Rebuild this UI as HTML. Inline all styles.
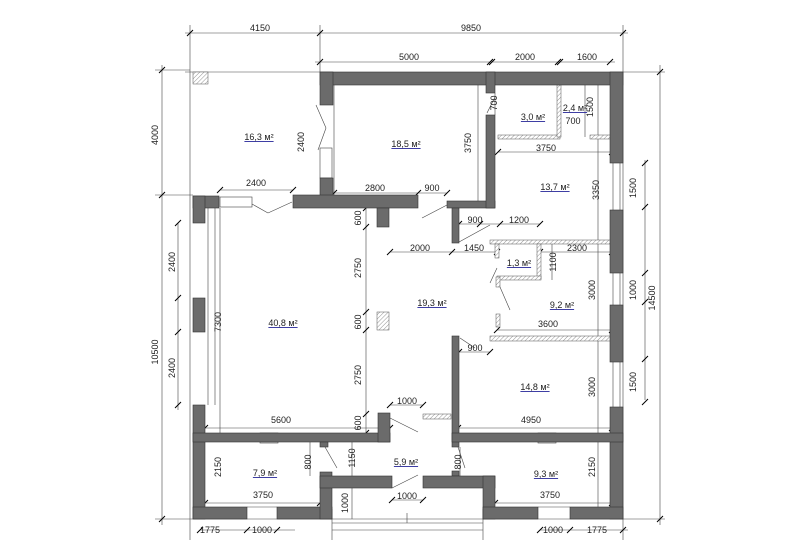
<!DOCTYPE html>
<html><head><meta charset="utf-8"><style>
html,body{margin:0;padding:0;background:#fff}
svg{display:block}
text{font-family:"Liberation Sans",sans-serif;font-size:9px;fill:#222}
.r{fill:#2a2a9a;text-decoration:underline}
.w{fill:#6b6b6b;stroke:#333;stroke-width:.6}
.h{fill:url(#hp);stroke:#555;stroke-width:.5}
.d{stroke:#444;stroke-width:.6;fill:none}
.t{stroke:#000;stroke-width:1}
</style></head><body>
<svg width="800" height="540" viewBox="0 0 800 540" xmlns="http://www.w3.org/2000/svg">
<defs><pattern id="hp" width="3" height="3" patternUnits="userSpaceOnUse" patternTransform="rotate(45)"><rect width="3" height="3" fill="#fff"/><line x1="0" y1="0" x2="0" y2="3" stroke="#777" stroke-width=".8"/></pattern></defs>

<g class="d">
<line x1="190" y1="25" x2="190" y2="540"/><line x1="320" y1="25" x2="320" y2="72"/><line x1="623" y1="25" x2="623" y2="540"/>
<line x1="185" y1="72" x2="320" y2="72"/><line x1="623" y1="72" x2="665" y2="72"/>
<line x1="155" y1="70" x2="190" y2="70"/><line x1="155" y1="195" x2="193" y2="195"/>
<line x1="155" y1="519" x2="665" y2="519"/>
<line x1="185" y1="33" x2="628" y2="33"/>
<line x1="162" y1="65" x2="162" y2="525"/>
<line x1="178" y1="223" x2="178" y2="410"/>
<line x1="660" y1="65" x2="660" y2="525"/>
<line x1="645" y1="160" x2="645" y2="400"/>
<line x1="315" y1="62" x2="615" y2="62"/>
<line x1="200" y1="530" x2="295" y2="530"/><line x1="540" y1="530" x2="628" y2="530"/>
<line x1="208" y1="207" x2="208" y2="405"/><line x1="215" y1="207" x2="215" y2="405"/>
<line x1="220" y1="208" x2="220" y2="433"/>
<line x1="334" y1="85" x2="334" y2="195"/>
<line x1="220" y1="190" x2="293" y2="190"/>
<line x1="333" y1="193" x2="418" y2="193"/><line x1="418" y1="193" x2="447" y2="193"/>
<line x1="478" y1="85" x2="478" y2="201"/>
<line x1="498" y1="152" x2="612" y2="152"/>
<line x1="598" y1="85" x2="598" y2="519"/>
<line x1="585" y1="85" x2="585" y2="137"/>
<line x1="366" y1="208" x2="366" y2="433"/>
<line x1="390" y1="252" x2="452" y2="252"/><line x1="452" y1="252" x2="497" y2="252"/>
<line x1="459" y1="224" x2="540" y2="224"/>
<line x1="540" y1="252" x2="612" y2="252"/>
<line x1="552" y1="244" x2="552" y2="280"/>
<line x1="497" y1="330" x2="612" y2="330"/>
<line x1="459" y1="352" x2="490" y2="352"/>
<line x1="205" y1="428" x2="390" y2="428"/><line x1="458" y1="428" x2="612" y2="428"/>
<line x1="205" y1="503" x2="320" y2="503"/><line x1="495" y1="503" x2="612" y2="503"/>
<line x1="390" y1="405" x2="423" y2="405"/><line x1="392" y1="500" x2="423" y2="500"/>
<line x1="310" y1="442" x2="310" y2="476"/><line x1="352" y1="442" x2="352" y2="488"/>
<line x1="460" y1="447" x2="460" y2="476"/><line x1="352" y1="488" x2="352" y2="519"/>
<line x1="495" y1="93" x2="495" y2="115"/>
<line x1="332" y1="519" x2="332" y2="540"/><line x1="483" y1="519" x2="483" y2="540"/>
<line x1="332" y1="530" x2="483" y2="530"/>
</g>
<g class="t">
<path d="M187 36l6-6M317 36l6-6M620 36l6-6M317 65l6-6M487 65l6-6M489 65l6-6M555 65l6-6M557 65l6-6M607 65l6-6M159 73l6-6M159 198l6-6M159 522l6-6M175 226l6-6M175 301l6-6M175 335l6-6M175 408l6-6M657 75l6-6M657 522l6-6M642 166l6-6M642 210l6-6M642 276l6-6M642 305l6-6M642 362l6-6M642 405l6-6M197 533l6-6M244 533l6-6M274 533l6-6M537 533l6-6M567 533l6-6M620 533l6-6M217 193l6-6M290 193l6-6M331 196l6-6M415 196l6-6M444 196l6-6M495 155l6-6M609 155l6-6M387 255l6-6M449 255l6-6M494 255l6-6M537 255l6-6M609 255l6-6M456 227l6-6M477 227l6-6M497 227l6-6M537 227l6-6M494 333l6-6M609 333l6-6M456 355l6-6M487 355l6-6M202 431l6-6M387 431l6-6M455 431l6-6M609 431l6-6M202 506l6-6M317 506l6-6M492 506l6-6M609 506l6-6M387 408l6-6M420 408l6-6M389 503l6-6M420 503l6-6M363 211l6-6M363 230l6-6M363 315l6-6M363 333l6-6M363 417l6-6M363 436l6-6"/>
</g>

<g class="h">
<rect x="193" y="72" width="15" height="12"/>
<rect x="377" y="312" width="12" height="18"/>
<rect x="498" y="135" width="62" height="4"/>
<rect x="557" y="85" width="4" height="52"/>
<rect x="590" y="135" width="22" height="4"/>
<rect x="490" y="240" width="122" height="4"/>
<rect x="537" y="244" width="4" height="35"/>
<rect x="497" y="276" width="44" height="4"/>
<rect x="495" y="244" width="4" height="14"/>
<rect x="496" y="277" width="4" height="10"/>
<rect x="496" y="314" width="4" height="13"/>
<rect x="490" y="336" width="122" height="5"/>
<rect x="423" y="414" width="28" height="5"/>
</g>
<g class="d">
<rect x="220" y="197" width="32" height="10"/>
<rect x="320" y="148" width="12" height="30"/>
<rect x="260" y="433" width="18" height="10"/><rect x="538" y="433" width="18" height="10"/>
<line x1="316" y1="105" x2="326" y2="128"/><line x1="326" y1="128" x2="318" y2="150"/>
<line x1="252" y1="204" x2="268" y2="213"/><line x1="268" y1="213" x2="292" y2="202"/>
<line x1="422" y1="218" x2="447" y2="205"/>
<line x1="487" y1="113" x2="495" y2="97"/>
<line x1="459" y1="242" x2="490" y2="225"/>
<line x1="490" y1="283" x2="497" y2="268"/>
<line x1="500" y1="287" x2="510" y2="310"/>
<line x1="390" y1="418" x2="418" y2="432"/>
<line x1="460" y1="338" x2="475" y2="348"/>
<line x1="325" y1="447" x2="337" y2="468"/>
<line x1="458" y1="447" x2="465" y2="468"/>
<line x1="392" y1="488" x2="418" y2="475"/>
<line x1="247" y1="507" x2="277" y2="507"/><line x1="538" y1="507" x2="570" y2="507"/>
<line x1="613" y1="163" x2="613" y2="210"/><line x1="620" y1="163" x2="620" y2="210"/>
<line x1="613" y1="273" x2="613" y2="305"/><line x1="620" y1="273" x2="620" y2="305"/>
<line x1="613" y1="362" x2="613" y2="407"/><line x1="620" y1="362" x2="620" y2="407"/>
<path d="M332 519v-10 M483 519v-10 M332 523h151 M407 523v-10"/>
</g>

<g class="w">
<rect x="320" y="72" width="303" height="13"/>
<rect x="320" y="72" width="13" height="33"/>
<rect x="320" y="178" width="13" height="22"/>
<rect x="293" y="195" width="125" height="13"/>
<rect x="377" y="208" width="12" height="19"/>
<rect x="447" y="201" width="48" height="7"/>
<rect x="486" y="115" width="9" height="93"/>
<rect x="486" y="72" width="9" height="21"/>
<rect x="452" y="208" width="7" height="35"/>
<rect x="193" y="196" width="26" height="12"/>
<rect x="193" y="196" width="12" height="27"/>
<rect x="193" y="298" width="12" height="34"/>
<rect x="193" y="405" width="12" height="114"/>
<rect x="610" y="72" width="13" height="91"/>
<rect x="610" y="210" width="13" height="63"/>
<rect x="610" y="305" width="13" height="57"/>
<rect x="610" y="407" width="13" height="112"/>
<rect x="193" y="433" width="197" height="9"/>
<rect x="378" y="413" width="12" height="29"/>
<rect x="320" y="442" width="8" height="5"/>
<rect x="452" y="336" width="7" height="111"/>
<rect x="452" y="433" width="171" height="9"/>
<rect x="452" y="471" width="7" height="5"/>
<rect x="193" y="507" width="54" height="12"/>
<rect x="277" y="507" width="55" height="12"/>
<rect x="320" y="472" width="12" height="47"/>
<rect x="320" y="476" width="72" height="12"/>
<rect x="423" y="476" width="72" height="12"/>
<rect x="483" y="476" width="12" height="43"/>
<rect x="483" y="507" width="55" height="12"/>
<rect x="570" y="507" width="53" height="12"/>
</g>

<g class="r" text-anchor="middle">
<text x="259" y="140">16,3 м²</text><text x="406" y="147">18,5 м²</text>
<text x="533" y="120">3,0 м²</text><text x="575" y="111">2,4 м²</text>
<text x="555" y="190">13,7 м²</text><text x="519" y="266">1,3 м²</text>
<text x="562" y="308">9,2 м²</text><text x="432" y="306">19,3 м²</text>
<text x="283" y="326">40,8 м²</text><text x="535" y="390">14,8 м²</text>
<text x="265" y="476">7,9 м²</text><text x="406" y="465">5,9 м²</text>
<text x="546" y="477">9,3 м²</text>
</g>
<g text-anchor="middle">
<text x="260" y="31">4150</text><text x="471" y="31">9850</text>
<text x="409" y="60">5000</text><text x="525" y="60">2000</text><text x="587" y="60">1600</text>
<text x="573" y="124">700</text><text x="546" y="151">3750</text>
<text x="256" y="186">2400</text><text x="375" y="191">2800</text><text x="432" y="191">900</text>
<text x="475" y="223">900</text><text x="519" y="223">1200</text>
<text x="420" y="251">2000</text><text x="474" y="251">1450</text><text x="577" y="251">2300</text>
<text x="548" y="327">3600</text><text x="475" y="351">900</text>
<text x="407" y="404">1000</text><text x="281" y="423">5600</text><text x="531" y="423">4950</text>
<text x="263" y="498">3750</text><text x="407" y="499">1000</text><text x="550" y="498">3750</text>
<text x="210" y="533">1775</text><text x="262" y="533">1000</text>
<text x="553" y="533">1000</text><text x="597" y="533">1775</text>
</g>
<g text-anchor="middle">
<text transform="translate(158,135) rotate(-90)">4000</text>
<text transform="translate(158,352) rotate(-90)">10500</text>
<text transform="translate(175,262) rotate(-90)">2400</text>
<text transform="translate(175,368) rotate(-90)">2400</text>
<text transform="translate(221,322) rotate(-90)">7300</text>
<text transform="translate(304,142) rotate(-90)">2400</text>
<text transform="translate(471,143) rotate(-90)">3750</text>
<text transform="translate(497,103) rotate(-90)">700</text>
<text transform="translate(593,107) rotate(-90)">1500</text>
<text transform="translate(599,190) rotate(-90)">3350</text>
<text transform="translate(595,290) rotate(-90)">3000</text>
<text transform="translate(595,387) rotate(-90)">3000</text>
<text transform="translate(595,467) rotate(-90)">2150</text>
<text transform="translate(556,262) rotate(-90)">1100</text>
<text transform="translate(636,188) rotate(-90)">1500</text>
<text transform="translate(636,290) rotate(-90)">1000</text>
<text transform="translate(636,382) rotate(-90)">1500</text>
<text transform="translate(655,298) rotate(-90)">14500</text>
<text transform="translate(361,218) rotate(-90)">600</text>
<text transform="translate(361,268) rotate(-90)">2750</text>
<text transform="translate(361,322) rotate(-90)">600</text>
<text transform="translate(361,375) rotate(-90)">2750</text>
<text transform="translate(361,423) rotate(-90)">600</text>
<text transform="translate(221,467) rotate(-90)">2150</text>
<text transform="translate(311,462) rotate(-90)">800</text>
<text transform="translate(355,458) rotate(-90)">1150</text>
<text transform="translate(461,462) rotate(-90)">800</text>
<text transform="translate(348,503) rotate(-90)">1000</text>
</g>
</svg>
</body></html>
